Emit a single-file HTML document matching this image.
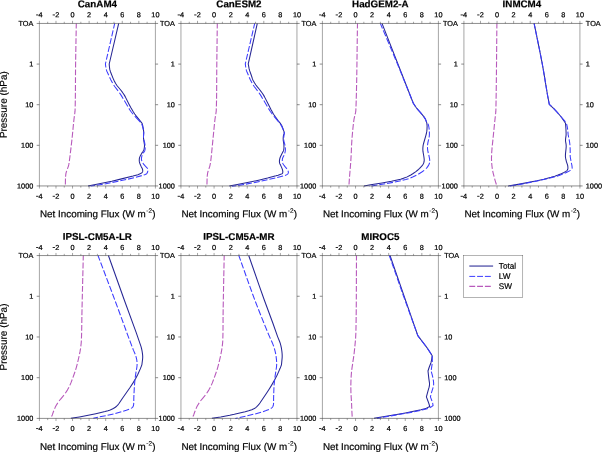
<!DOCTYPE html><html><head><meta charset="utf-8"><title>Net Incoming Flux</title>
<style>html,body{margin:0;padding:0;background:#fff}svg{display:block;will-change:transform}text{text-rendering:geometricPrecision;stroke:#000;stroke-width:0.2px;font-family:"Liberation Sans",sans-serif;fill:#000}.t{font-size:7.3px;stroke-width:0.22px}.ti{font-size:9.8px;font-weight:bold}.lb{font-size:9.87px}.lg{font-size:8.2px}</style></head><body>
<svg width="602" height="452" viewBox="0 0 602 452">
<defs><filter id="b" x="0" y="0" width="602" height="452" filterUnits="userSpaceOnUse"><feGaussianBlur stdDeviation="0.01"/></filter></defs>
<rect width="602" height="452" fill="#fff"/>
<g filter="url(#b)"><rect width="602" height="452" fill="#fff"/>
<g fill="none" stroke-linejoin="round">
<path d="M118.70 23.40L109.20 64.00L109.38 66.23L109.65 68.55L109.90 69.90L110.37 71.46L113.08 78.36L114.30 81.03L115.67 83.55L116.94 85.48L120.70 90.00L122.35 92.19L123.61 93.98L124.50 95.38L125.33 96.87L129.14 104.40L130.77 107.47L133.43 112.03L134.72 114.03L136.10 115.93L141.53 122.56L142.10 123.50L142.33 124.03L142.62 125.16L143.43 129.67L143.66 131.34L143.71 132.99L143.51 136.26L143.50 137.90L143.67 139.57L144.48 144.90L144.50 145.90L144.41 147.06L144.14 148.79L143.80 149.90L143.57 150.43L142.99 151.44L141.69 153.39L140.32 155.85L139.85 156.85L139.50 157.90L139.38 158.46L139.24 160.18L139.40 161.90L139.84 163.44L141.12 166.38L142.13 168.23L142.50 169.20L142.71 170.29L142.73 170.85L142.67 171.39L142.50 171.90L142.23 172.34L141.86 172.73L141.44 173.06L140.50 173.60L139.49 174.07L137.93 174.65L133.02 176.06L120.54 179.12L111.77 181.15L88.00 185.90" stroke="#262694" stroke-width="1.05"/>
<path d="M114.70 23.40L113.53 28.50M113.10 30.40L111.75 36.30M111.31 38.20L109.96 44.10M109.52 46.00L108.17 51.90M107.74 53.80L106.38 59.70M105.95 61.60L105.40 64.00L105.89 67.50M106.27 69.40L106.58 70.46L106.99 71.55L108.73 75.30M109.58 77.20L110.77 79.74L112.55 83.10M113.70 85.00L114.71 86.46L118.06 90.90M119.45 92.80L121.22 95.39L123.19 98.70M124.32 100.60L127.82 106.50M128.90 108.40L129.74 109.75L130.75 111.23L133.11 114.30M134.77 116.20L140.35 122.10M141.68 124.00L142.12 125.01L142.47 126.09L143.08 128.35L143.43 129.90M143.69 131.80L143.72 133.04L143.49 136.19L143.49 137.70M143.81 139.60L144.64 142.62L145.12 145.50M145.20 147.40L145.05 149.50L144.70 150.90L144.32 151.63L143.03 153.30M142.18 155.20L141.66 156.90L141.40 158.60L141.47 159.73L141.86 161.10M142.82 163.00L143.60 164.07L144.69 165.43L147.00 167.77L147.35 168.25L147.66 168.84M147.87 170.74L147.67 171.75L147.38 172.56L146.97 173.30L146.61 173.72L146.16 174.08L145.38 174.50L143.68 175.07M141.78 175.62L135.88 177.18M133.98 177.66L128.08 179.13M126.18 179.58L120.28 180.84M118.38 181.23L112.48 182.39M110.58 182.76L104.68 183.90M102.78 184.24L96.88 185.19M94.98 185.47L90.60 186.10" stroke="#3c3cff" stroke-width="1.05"/>
<path d="M76.30 23.40L76.21 28.50M76.18 30.40L76.07 36.30M76.03 38.20L75.93 44.10M75.89 46.00L75.79 51.90M75.76 53.80L75.66 59.70M75.63 61.60L75.56 67.50M75.54 69.40L75.50 75.30M75.49 77.20L75.46 83.10M75.45 85.00L75.42 90.90M75.40 92.80L75.34 98.70M75.31 100.60L75.19 106.50M75.14 108.40L75.02 111.16L74.67 114.30M74.39 116.20L74.00 119.03L73.67 122.10M73.48 124.00L72.91 129.90M72.73 131.80L72.14 137.70M71.93 139.60L71.27 145.50M71.04 147.40L70.33 153.30M70.09 155.20L69.33 161.10M69.06 163.00L68.76 164.67L68.42 166.09L67.43 168.90M66.69 170.80L66.22 172.26L65.95 173.41L65.74 174.87L65.57 176.70M65.47 178.60L65.36 184.50" stroke="#b85abc" stroke-width="1.1"/>
</g>
<path d="M39.13 23.45H155.67M39.13 185.95H155.67M39.40 23.45h-2.7M155.40 23.45h2.7M39.40 64.08h-2.7M155.40 64.08h2.7M39.40 104.70h-2.7M155.40 104.70h2.7M39.40 145.32h-2.7M155.40 145.32h2.7M39.40 185.95h-2.7M155.40 185.95h2.7" fill="none" stroke="#4d4d4d" stroke-width="0.64"/>
<path d="M39.40 23.45V185.95M155.40 23.45V185.95M39.40 23.45v-2.60M39.40 185.95v2.60M47.69 23.45v-1.70M47.69 185.95v1.70M55.97 23.45v-2.60M55.97 185.95v2.60M64.26 23.45v-1.70M64.26 185.95v1.70M72.54 23.45v-2.60M72.54 185.95v2.60M80.83 23.45v-1.70M80.83 185.95v1.70M89.11 23.45v-2.60M89.11 185.95v2.60M97.40 23.45v-1.70M97.40 185.95v1.70M105.69 23.45v-2.60M105.69 185.95v2.60M113.97 23.45v-1.70M113.97 185.95v1.70M122.26 23.45v-2.60M122.26 185.95v2.60M130.54 23.45v-1.70M130.54 185.95v1.70M138.83 23.45v-2.60M138.83 185.95v2.60M147.11 23.45v-1.70M147.11 185.95v1.70M155.40 23.45v-2.60M155.40 185.95v2.60" fill="none" stroke="#4d4d4d" stroke-width="0.5"/>
<text class="t" x="38.59" y="17.35" transform="rotate(0.04 38.59 17.35)">4</text>
<path d="M36.10 14.95h2.3" stroke="#000" stroke-width="0.85" fill="none"/>
<text class="t" x="38.59" y="198.70" transform="rotate(0.04 38.59 198.70)">4</text>
<path d="M36.10 196.30h2.3" stroke="#000" stroke-width="0.85" fill="none"/>
<text class="t" x="55.16" y="17.35" transform="rotate(0.04 55.16 17.35)">2</text>
<path d="M52.67 14.95h2.3" stroke="#000" stroke-width="0.85" fill="none"/>
<text class="t" x="55.16" y="198.70" transform="rotate(0.04 55.16 198.70)">2</text>
<path d="M52.67 196.30h2.3" stroke="#000" stroke-width="0.85" fill="none"/>
<text class="t" x="72.54" y="17.35" text-anchor="middle" transform="rotate(0.04 72.54 17.35)">0</text>
<text class="t" x="72.54" y="198.70" text-anchor="middle" transform="rotate(0.04 72.54 198.70)">0</text>
<text class="t" x="89.11" y="17.35" text-anchor="middle" transform="rotate(0.04 89.11 17.35)">2</text>
<text class="t" x="89.11" y="198.70" text-anchor="middle" transform="rotate(0.04 89.11 198.70)">2</text>
<text class="t" x="105.69" y="17.35" text-anchor="middle" transform="rotate(0.04 105.69 17.35)">4</text>
<text class="t" x="105.69" y="198.70" text-anchor="middle" transform="rotate(0.04 105.69 198.70)">4</text>
<text class="t" x="122.26" y="17.35" text-anchor="middle" transform="rotate(0.04 122.26 17.35)">6</text>
<text class="t" x="122.26" y="198.70" text-anchor="middle" transform="rotate(0.04 122.26 198.70)">6</text>
<text class="t" x="138.83" y="17.35" text-anchor="middle" transform="rotate(0.04 138.83 17.35)">8</text>
<text class="t" x="138.83" y="198.70" text-anchor="middle" transform="rotate(0.04 138.83 198.70)">8</text>
<text class="t" x="155.40" y="17.35" text-anchor="middle" transform="rotate(0.04 155.40 17.35)">10</text>
<text class="t" x="155.40" y="198.70" text-anchor="middle" transform="rotate(0.04 155.40 198.70)">10</text>
<text class="t" x="33.30" y="25.90" text-anchor="end" transform="rotate(0.04 33.30 25.90)">TOA</text>
<text class="t" x="33.30" y="66.53" text-anchor="end" transform="rotate(0.04 33.30 66.53)">1</text>
<text class="t" x="33.30" y="107.15" text-anchor="end" transform="rotate(0.04 33.30 107.15)">10</text>
<text class="t" x="33.30" y="147.77" text-anchor="end" transform="rotate(0.04 33.30 147.77)">100</text>
<text class="t" x="33.30" y="188.40" text-anchor="end" transform="rotate(0.04 33.30 188.40)">1000</text>
<text class="ti" x="97.40" y="7.20" text-anchor="middle" transform="rotate(0.04 97.40 7.20)">CanAM4</text>
<text class="lb" x="39.95" y="217.25" transform="rotate(0.04 39.95 217.25)">Net Incoming Flux (W m<tspan font-size="6.5px" stroke-width="0.15" dy="-4.6" dx="0.55">-2</tspan><tspan dy="4.6" dx="0.15">)</tspan></text>
<text class="lb" style="font-size:9.95px" transform="translate(6.85 104.70) rotate(-89.96)" text-anchor="middle">Pressure (hPa)</text>
<g fill="none" stroke-linejoin="round">
<path d="M257.30 23.40L248.25 63.90L248.46 65.21L249.11 68.66L249.71 70.94L251.20 75.00L252.45 78.92L252.90 80.00L253.42 81.04L254.60 83.06L255.90 85.00L256.95 86.39L259.54 89.54L260.89 91.31L262.50 93.53L263.70 95.38L264.53 96.87L268.19 103.90L270.94 109.50L273.18 113.53L274.10 115.00L275.37 116.84L278.04 120.45L280.14 123.13L281.40 125.00L281.94 126.04L282.40 127.13L283.93 131.38L284.16 132.39L284.20 132.90L284.15 133.41L283.51 135.39L283.40 135.90L283.22 137.61L283.17 138.76L283.25 140.46L283.79 143.78L283.90 144.90L283.97 147.69L283.81 149.36L283.55 150.43L283.35 150.94L282.04 153.40L280.58 156.47L280.15 157.52L279.67 159.16L279.43 160.88L279.44 162.03L279.63 163.18L279.84 163.74L280.65 165.35L281.79 167.87L282.37 169.38L282.62 170.45L282.79 171.60L282.80 172.16L282.71 172.70L282.50 173.20L282.19 173.58L281.79 173.88L281.32 174.10L278.17 175.16L275.97 175.83L267.58 178.07L259.67 179.95L250.02 182.02L237.30 184.60L229.30 186.10" stroke="#262694" stroke-width="1.05"/>
<path d="M254.70 23.40L253.52 28.50M253.08 30.40L251.71 36.30M251.26 38.20L249.90 44.10M249.45 46.00L248.09 51.90M247.64 53.80L246.27 59.70M245.83 61.60L245.30 63.90L245.77 67.50M246.13 69.40L246.41 70.45L246.80 71.54L248.42 75.30M249.20 77.20L250.33 79.74L252.06 83.10M253.20 85.00L254.21 86.46L257.56 90.90M258.95 92.80L260.72 95.39L262.69 98.70M263.82 100.60L267.33 106.50M268.42 108.40L270.20 111.22L272.37 114.30M273.87 116.20L276.54 119.31L278.79 122.10M280.23 124.00L281.05 125.25L281.78 126.50L283.40 129.90M284.18 131.80L284.37 132.62L284.40 133.45L283.94 135.63L283.71 137.70M283.67 139.60L283.89 141.02L284.72 144.06L285.00 145.50M285.29 147.40L285.41 149.01L285.38 150.19L285.18 151.61L284.75 153.30M284.07 155.20L283.00 157.26L282.57 158.32L282.31 159.74L282.27 161.10M282.63 163.00L282.96 163.69L283.61 164.69L284.83 166.35L286.29 168.06L286.91 168.90M287.98 170.80L288.28 171.63L288.40 172.50L288.29 173.08L287.99 173.62L287.58 174.10L286.85 174.66L286.07 175.07L284.98 175.46M283.08 176.01L277.18 177.48M275.28 177.92L269.38 179.28M267.48 179.71L261.58 181.01M259.68 181.43L253.78 182.69M251.88 183.07L245.98 184.12M244.08 184.43L238.18 185.37M236.28 185.66L232.00 186.30" stroke="#3c3cff" stroke-width="1.05"/>
<path d="M217.30 23.40L217.24 28.50M217.21 30.40L217.14 36.30M217.12 38.20L217.04 44.10M217.02 46.00L216.94 51.90M216.92 53.80L216.85 59.70M216.83 61.60L216.77 67.50M216.75 69.40L216.72 75.30M216.71 77.20L216.69 83.10M216.69 85.00L216.65 90.90M216.64 92.80L216.57 98.70M216.53 100.60L216.40 106.50M216.34 108.40L216.21 111.17L215.79 114.30M215.46 116.20L215.01 119.02L214.66 122.10M214.46 124.00L213.87 129.90M213.69 131.80L213.12 137.70M212.93 139.60L212.36 145.50M212.17 147.40L211.60 153.30M211.40 155.20L210.74 161.10M210.46 163.00L209.83 166.09L208.91 168.90M208.23 170.80L207.80 172.26L207.55 173.41L207.18 176.70M207.09 178.60L206.96 184.50" stroke="#b85abc" stroke-width="1.1"/>
</g>
<path d="M180.68 23.45H297.22M180.68 185.95H297.22M180.95 23.45h-2.7M296.95 23.45h2.7M180.95 64.08h-2.7M296.95 64.08h2.7M180.95 104.70h-2.7M296.95 104.70h2.7M180.95 145.32h-2.7M296.95 145.32h2.7M180.95 185.95h-2.7M296.95 185.95h2.7" fill="none" stroke="#4d4d4d" stroke-width="0.64"/>
<path d="M180.95 23.45V185.95M296.95 23.45V185.95M180.95 23.45v-2.60M180.95 185.95v2.60M189.24 23.45v-1.70M189.24 185.95v1.70M197.52 23.45v-2.60M197.52 185.95v2.60M205.81 23.45v-1.70M205.81 185.95v1.70M214.09 23.45v-2.60M214.09 185.95v2.60M222.38 23.45v-1.70M222.38 185.95v1.70M230.66 23.45v-2.60M230.66 185.95v2.60M238.95 23.45v-1.70M238.95 185.95v1.70M247.24 23.45v-2.60M247.24 185.95v2.60M255.52 23.45v-1.70M255.52 185.95v1.70M263.81 23.45v-2.60M263.81 185.95v2.60M272.09 23.45v-1.70M272.09 185.95v1.70M280.38 23.45v-2.60M280.38 185.95v2.60M288.66 23.45v-1.70M288.66 185.95v1.70M296.95 23.45v-2.60M296.95 185.95v2.60" fill="none" stroke="#4d4d4d" stroke-width="0.5"/>
<text class="t" x="180.14" y="17.35" transform="rotate(0.04 180.14 17.35)">4</text>
<path d="M177.65 14.95h2.3" stroke="#000" stroke-width="0.85" fill="none"/>
<text class="t" x="180.14" y="198.70" transform="rotate(0.04 180.14 198.70)">4</text>
<path d="M177.65 196.30h2.3" stroke="#000" stroke-width="0.85" fill="none"/>
<text class="t" x="196.71" y="17.35" transform="rotate(0.04 196.71 17.35)">2</text>
<path d="M194.22 14.95h2.3" stroke="#000" stroke-width="0.85" fill="none"/>
<text class="t" x="196.71" y="198.70" transform="rotate(0.04 196.71 198.70)">2</text>
<path d="M194.22 196.30h2.3" stroke="#000" stroke-width="0.85" fill="none"/>
<text class="t" x="214.09" y="17.35" text-anchor="middle" transform="rotate(0.04 214.09 17.35)">0</text>
<text class="t" x="214.09" y="198.70" text-anchor="middle" transform="rotate(0.04 214.09 198.70)">0</text>
<text class="t" x="230.66" y="17.35" text-anchor="middle" transform="rotate(0.04 230.66 17.35)">2</text>
<text class="t" x="230.66" y="198.70" text-anchor="middle" transform="rotate(0.04 230.66 198.70)">2</text>
<text class="t" x="247.24" y="17.35" text-anchor="middle" transform="rotate(0.04 247.24 17.35)">4</text>
<text class="t" x="247.24" y="198.70" text-anchor="middle" transform="rotate(0.04 247.24 198.70)">4</text>
<text class="t" x="263.81" y="17.35" text-anchor="middle" transform="rotate(0.04 263.81 17.35)">6</text>
<text class="t" x="263.81" y="198.70" text-anchor="middle" transform="rotate(0.04 263.81 198.70)">6</text>
<text class="t" x="280.38" y="17.35" text-anchor="middle" transform="rotate(0.04 280.38 17.35)">8</text>
<text class="t" x="280.38" y="198.70" text-anchor="middle" transform="rotate(0.04 280.38 198.70)">8</text>
<text class="t" x="296.95" y="17.35" text-anchor="middle" transform="rotate(0.04 296.95 17.35)">10</text>
<text class="t" x="296.95" y="198.70" text-anchor="middle" transform="rotate(0.04 296.95 198.70)">10</text>
<text class="t" x="174.85" y="25.90" text-anchor="end" transform="rotate(0.04 174.85 25.90)">TOA</text>
<text class="t" x="174.85" y="66.53" text-anchor="end" transform="rotate(0.04 174.85 66.53)">1</text>
<text class="t" x="174.85" y="107.15" text-anchor="end" transform="rotate(0.04 174.85 107.15)">10</text>
<text class="t" x="174.85" y="147.77" text-anchor="end" transform="rotate(0.04 174.85 147.77)">100</text>
<text class="t" x="174.85" y="188.40" text-anchor="end" transform="rotate(0.04 174.85 188.40)">1000</text>
<text class="ti" x="238.95" y="7.20" text-anchor="middle" transform="rotate(0.04 238.95 7.20)">CanESM2</text>
<text class="lb" x="181.50" y="217.25" transform="rotate(0.04 181.50 217.25)">Net Incoming Flux (W m<tspan font-size="6.5px" stroke-width="0.15" dy="-4.6" dx="0.55">-2</tspan><tspan dy="4.6" dx="0.15">)</tspan></text>
<g fill="none" stroke-linejoin="round">
<path d="M382.00 23.40L413.30 103.20L415.29 106.29L416.50 108.00L417.61 109.35L420.73 112.85L423.20 115.88L424.51 117.67L425.10 118.60L425.70 119.83L426.80 122.90L427.05 125.33L427.10 126.60L426.98 129.55L426.70 131.90L426.38 133.50L425.97 135.09L423.43 143.99L423.10 145.60L422.91 147.36L422.84 149.13L422.95 151.44L423.72 155.76L424.05 158.02L424.22 159.75L424.20 160.90L424.12 161.48L423.84 162.61L423.38 163.69L422.79 164.69L422.12 165.62L421.00 166.95L419.40 168.59L418.16 169.74L415.55 171.87L412.75 173.79L410.80 174.95L408.76 176.05L407.17 176.86L405.56 177.59L403.35 178.37L400.56 179.15L397.17 179.95L391.44 181.17L382.03 182.90L370.60 184.80L364.00 186.10" stroke="#262694" stroke-width="1.05"/>
<path d="M380.30 23.40L382.46 28.50M383.27 30.40L385.77 36.30M386.57 38.20L389.07 44.10M389.87 46.00L392.37 51.90M393.18 53.80L395.68 59.70M396.48 61.60L398.91 67.50M399.68 69.40L402.05 75.30M402.82 77.20L405.20 83.10M405.96 85.00L408.34 90.90M409.11 92.80L411.49 98.70M412.25 100.60L413.30 103.20L415.43 106.50M416.82 108.40L420.35 112.41L421.92 114.30M423.45 116.20L424.48 117.63L425.25 118.87L425.84 120.18L426.54 122.10M427.88 123.74L428.24 124.41L428.58 125.49L428.95 127.48L429.23 129.64M429.38 131.54L429.40 134.55L429.16 137.44M428.65 139.34L427.85 142.94L427.53 145.24M427.47 147.14L427.53 148.55L427.72 150.32L427.90 151.48L428.27 153.04M428.79 154.94L429.55 158.64L429.80 160.84M429.65 162.74L429.18 164.12L428.36 165.67L427.18 167.37L426.06 168.64M424.16 170.33L421.47 172.27L418.26 174.25M416.36 175.28L413.19 176.81L410.46 177.97M408.56 178.66L405.82 179.47L402.66 180.28M400.76 180.72L394.86 181.99M392.96 182.36L387.06 183.42M385.16 183.74L379.26 184.67M377.36 184.97L371.46 185.94M369.56 186.26L369.30 186.30" stroke="#3c3cff" stroke-width="1.05"/>
<path d="M357.50 23.40L357.41 28.50M357.38 30.40L357.29 36.30M357.27 38.20L357.19 44.10M357.16 46.00L357.09 51.90M357.07 53.80L356.99 59.70M356.97 61.60L356.89 67.50M356.86 69.40L356.77 75.30M356.74 77.20L356.63 83.10M356.59 85.00L356.46 90.90M356.42 92.80L356.26 98.70M356.21 100.60L356.01 106.50M355.95 108.40L355.77 111.17L355.53 112.64L355.15 114.30M354.67 116.20L354.04 119.02L353.62 122.10M353.39 124.00L352.76 129.90M352.58 131.80L352.07 137.70M351.92 139.60L351.56 145.50M351.48 147.40L351.24 153.30M351.15 155.20L350.81 161.10M350.67 163.00L350.20 168.90M350.04 170.80L349.54 176.70M349.39 178.60L349.00 184.50" stroke="#b85abc" stroke-width="1.1"/>
</g>
<path d="M322.13 23.45H438.67M322.13 185.95H438.67M322.40 23.45h-2.7M438.40 23.45h2.7M322.40 64.08h-2.7M438.40 64.08h2.7M322.40 104.70h-2.7M438.40 104.70h2.7M322.40 145.32h-2.7M438.40 145.32h2.7M322.40 185.95h-2.7M438.40 185.95h2.7" fill="none" stroke="#4d4d4d" stroke-width="0.64"/>
<path d="M322.40 23.45V185.95M438.40 23.45V185.95M322.40 23.45v-2.60M322.40 185.95v2.60M330.69 23.45v-1.70M330.69 185.95v1.70M338.97 23.45v-2.60M338.97 185.95v2.60M347.26 23.45v-1.70M347.26 185.95v1.70M355.54 23.45v-2.60M355.54 185.95v2.60M363.83 23.45v-1.70M363.83 185.95v1.70M372.11 23.45v-2.60M372.11 185.95v2.60M380.40 23.45v-1.70M380.40 185.95v1.70M388.69 23.45v-2.60M388.69 185.95v2.60M396.97 23.45v-1.70M396.97 185.95v1.70M405.26 23.45v-2.60M405.26 185.95v2.60M413.54 23.45v-1.70M413.54 185.95v1.70M421.83 23.45v-2.60M421.83 185.95v2.60M430.11 23.45v-1.70M430.11 185.95v1.70M438.40 23.45v-2.60M438.40 185.95v2.60" fill="none" stroke="#4d4d4d" stroke-width="0.5"/>
<text class="t" x="321.59" y="17.35" transform="rotate(0.04 321.59 17.35)">4</text>
<path d="M319.10 14.95h2.3" stroke="#000" stroke-width="0.85" fill="none"/>
<text class="t" x="321.59" y="198.70" transform="rotate(0.04 321.59 198.70)">4</text>
<path d="M319.10 196.30h2.3" stroke="#000" stroke-width="0.85" fill="none"/>
<text class="t" x="338.16" y="17.35" transform="rotate(0.04 338.16 17.35)">2</text>
<path d="M335.67 14.95h2.3" stroke="#000" stroke-width="0.85" fill="none"/>
<text class="t" x="338.16" y="198.70" transform="rotate(0.04 338.16 198.70)">2</text>
<path d="M335.67 196.30h2.3" stroke="#000" stroke-width="0.85" fill="none"/>
<text class="t" x="355.54" y="17.35" text-anchor="middle" transform="rotate(0.04 355.54 17.35)">0</text>
<text class="t" x="355.54" y="198.70" text-anchor="middle" transform="rotate(0.04 355.54 198.70)">0</text>
<text class="t" x="372.11" y="17.35" text-anchor="middle" transform="rotate(0.04 372.11 17.35)">2</text>
<text class="t" x="372.11" y="198.70" text-anchor="middle" transform="rotate(0.04 372.11 198.70)">2</text>
<text class="t" x="388.69" y="17.35" text-anchor="middle" transform="rotate(0.04 388.69 17.35)">4</text>
<text class="t" x="388.69" y="198.70" text-anchor="middle" transform="rotate(0.04 388.69 198.70)">4</text>
<text class="t" x="405.26" y="17.35" text-anchor="middle" transform="rotate(0.04 405.26 17.35)">6</text>
<text class="t" x="405.26" y="198.70" text-anchor="middle" transform="rotate(0.04 405.26 198.70)">6</text>
<text class="t" x="421.83" y="17.35" text-anchor="middle" transform="rotate(0.04 421.83 17.35)">8</text>
<text class="t" x="421.83" y="198.70" text-anchor="middle" transform="rotate(0.04 421.83 198.70)">8</text>
<text class="t" x="438.40" y="17.35" text-anchor="middle" transform="rotate(0.04 438.40 17.35)">10</text>
<text class="t" x="438.40" y="198.70" text-anchor="middle" transform="rotate(0.04 438.40 198.70)">10</text>
<text class="t" x="316.30" y="25.90" text-anchor="end" transform="rotate(0.04 316.30 25.90)">TOA</text>
<text class="t" x="316.30" y="66.53" text-anchor="end" transform="rotate(0.04 316.30 66.53)">1</text>
<text class="t" x="316.30" y="107.15" text-anchor="end" transform="rotate(0.04 316.30 107.15)">10</text>
<text class="t" x="316.30" y="147.77" text-anchor="end" transform="rotate(0.04 316.30 147.77)">100</text>
<text class="t" x="316.30" y="188.40" text-anchor="end" transform="rotate(0.04 316.30 188.40)">1000</text>
<text class="ti" x="380.40" y="7.20" text-anchor="middle" transform="rotate(0.04 380.40 7.20)">HadGEM2-A</text>
<text class="lb" x="322.95" y="217.25" transform="rotate(0.04 322.95 217.25)">Net Incoming Flux (W m<tspan font-size="6.5px" stroke-width="0.15" dy="-4.6" dx="0.55">-2</tspan><tspan dy="4.6" dx="0.15">)</tspan></text>
<g fill="none" stroke-linejoin="round">
<path d="M534.10 23.40L539.48 49.52L541.99 62.32L543.65 71.64L547.50 95.00L549.30 104.30L553.50 108.30L556.35 111.33L558.73 113.99L560.20 115.76L561.88 117.96L563.83 120.67L565.50 123.20L565.90 128.20L566.12 133.78L566.07 135.44L565.61 138.68L565.50 140.30L565.59 141.48L566.09 144.42L566.20 146.19L566.10 147.96L565.46 154.14L565.40 156.30L565.52 157.49L565.72 158.67L566.40 161.60L567.43 164.65L567.71 165.68L567.91 167.25L567.91 168.32L567.84 168.83L567.50 169.80L567.20 170.25L566.83 170.66L566.41 171.02L565.47 171.64L563.45 172.77L561.28 173.78L557.97 175.10L554.79 176.20L551.04 177.35L543.82 179.28L537.02 180.81L518.16 184.39L508.00 186.10" stroke="#262694" stroke-width="1.05"/>
<path d="M534.10 23.40L535.14 28.50M535.53 30.40L536.76 36.30M537.15 38.20L538.37 44.10M538.76 46.00L539.96 51.90M540.34 53.80L541.49 59.70M541.86 61.60L542.93 67.50M543.27 69.40L544.26 75.30M544.57 77.20L545.52 83.10M545.83 85.00L546.80 90.90M547.12 92.80L548.19 98.70M548.56 100.60L549.30 104.30L551.50 106.34M553.40 108.19L555.73 110.69L558.78 114.09M560.47 115.99L563.73 119.75L565.42 121.89M566.55 123.79L567.33 127.24L567.69 129.69M567.86 131.59L568.20 134.90L568.71 137.49M569.13 139.39L569.62 142.35L569.97 145.29M570.10 147.19L570.20 151.20L570.17 153.09M570.14 154.99L570.20 156.30L570.34 157.49L570.97 160.89M571.35 162.79L571.78 164.75L571.97 165.91L572.15 167.67L572.14 168.25L572.06 168.69M570.58 170.40L566.82 172.30L564.68 173.30M562.78 174.09L559.77 175.21L556.88 176.18M554.98 176.76L549.08 178.30M547.18 178.75L541.28 180.08M539.38 180.50L533.48 181.73M531.58 182.12L525.68 183.30M523.78 183.67L517.88 184.76M515.98 185.09L510.08 186.09" stroke="#3c3cff" stroke-width="1.05"/>
<path d="M496.90 23.40L496.84 28.50M496.82 30.40L496.77 36.30M496.75 38.20L496.69 44.10M496.68 46.00L496.63 51.90M496.61 53.80L496.56 59.70M496.54 61.60L496.49 67.50M496.47 69.40L496.41 75.30M496.39 77.20L496.32 83.10M496.30 85.00L496.22 90.90M496.20 92.80L496.10 98.70M496.07 100.60L495.96 106.50M495.93 108.40L495.84 111.16L495.56 114.30M495.33 116.20L494.68 122.10M494.49 124.00L493.90 129.90M493.71 131.80L493.12 137.70M492.93 139.60L492.29 145.50M492.10 147.40L491.66 153.30M491.56 155.20L491.48 158.33L491.55 161.10M491.67 163.00L491.95 165.99L492.35 168.90M492.68 170.80L493.23 173.32L494.09 176.70M494.60 178.60L495.30 181.10L496.39 184.50" stroke="#b85abc" stroke-width="1.1"/>
</g>
<path d="M463.65 23.45H580.19M463.65 185.95H580.19M463.92 23.45h-2.7M579.92 23.45h2.7M463.92 64.08h-2.7M579.92 64.08h2.7M463.92 104.70h-2.7M579.92 104.70h2.7M463.92 145.32h-2.7M579.92 145.32h2.7M463.92 185.95h-2.7M579.92 185.95h2.7" fill="none" stroke="#4d4d4d" stroke-width="0.64"/>
<path d="M463.92 23.45V185.95M579.92 23.45V185.95M463.92 23.45v-2.60M463.92 185.95v2.60M472.21 23.45v-1.70M472.21 185.95v1.70M480.49 23.45v-2.60M480.49 185.95v2.60M488.78 23.45v-1.70M488.78 185.95v1.70M497.06 23.45v-2.60M497.06 185.95v2.60M505.35 23.45v-1.70M505.35 185.95v1.70M513.63 23.45v-2.60M513.63 185.95v2.60M521.92 23.45v-1.70M521.92 185.95v1.70M530.21 23.45v-2.60M530.21 185.95v2.60M538.49 23.45v-1.70M538.49 185.95v1.70M546.78 23.45v-2.60M546.78 185.95v2.60M555.06 23.45v-1.70M555.06 185.95v1.70M563.35 23.45v-2.60M563.35 185.95v2.60M571.63 23.45v-1.70M571.63 185.95v1.70M579.92 23.45v-2.60M579.92 185.95v2.60" fill="none" stroke="#4d4d4d" stroke-width="0.5"/>
<text class="t" x="463.11" y="17.35" transform="rotate(0.04 463.11 17.35)">4</text>
<path d="M460.62 14.95h2.3" stroke="#000" stroke-width="0.85" fill="none"/>
<text class="t" x="463.11" y="198.70" transform="rotate(0.04 463.11 198.70)">4</text>
<path d="M460.62 196.30h2.3" stroke="#000" stroke-width="0.85" fill="none"/>
<text class="t" x="479.68" y="17.35" transform="rotate(0.04 479.68 17.35)">2</text>
<path d="M477.19 14.95h2.3" stroke="#000" stroke-width="0.85" fill="none"/>
<text class="t" x="479.68" y="198.70" transform="rotate(0.04 479.68 198.70)">2</text>
<path d="M477.19 196.30h2.3" stroke="#000" stroke-width="0.85" fill="none"/>
<text class="t" x="497.06" y="17.35" text-anchor="middle" transform="rotate(0.04 497.06 17.35)">0</text>
<text class="t" x="497.06" y="198.70" text-anchor="middle" transform="rotate(0.04 497.06 198.70)">0</text>
<text class="t" x="513.63" y="17.35" text-anchor="middle" transform="rotate(0.04 513.63 17.35)">2</text>
<text class="t" x="513.63" y="198.70" text-anchor="middle" transform="rotate(0.04 513.63 198.70)">2</text>
<text class="t" x="530.21" y="17.35" text-anchor="middle" transform="rotate(0.04 530.21 17.35)">4</text>
<text class="t" x="530.21" y="198.70" text-anchor="middle" transform="rotate(0.04 530.21 198.70)">4</text>
<text class="t" x="546.78" y="17.35" text-anchor="middle" transform="rotate(0.04 546.78 17.35)">6</text>
<text class="t" x="546.78" y="198.70" text-anchor="middle" transform="rotate(0.04 546.78 198.70)">6</text>
<text class="t" x="563.35" y="17.35" text-anchor="middle" transform="rotate(0.04 563.35 17.35)">8</text>
<text class="t" x="563.35" y="198.70" text-anchor="middle" transform="rotate(0.04 563.35 198.70)">8</text>
<text class="t" x="579.92" y="17.35" text-anchor="middle" transform="rotate(0.04 579.92 17.35)">10</text>
<text class="t" x="579.92" y="198.70" text-anchor="middle" transform="rotate(0.04 579.92 198.70)">10</text>
<text class="t" x="457.82" y="25.90" text-anchor="end" transform="rotate(0.04 457.82 25.90)">TOA</text>
<text class="t" x="585.82" y="25.90" transform="rotate(0.04 585.82 25.90)">TOA</text>
<text class="t" x="457.82" y="66.53" text-anchor="end" transform="rotate(0.04 457.82 66.53)">1</text>
<text class="t" x="585.82" y="66.53" transform="rotate(0.04 585.82 66.53)">1</text>
<text class="t" x="457.82" y="107.15" text-anchor="end" transform="rotate(0.04 457.82 107.15)">10</text>
<text class="t" x="585.82" y="107.15" transform="rotate(0.04 585.82 107.15)">10</text>
<text class="t" x="457.82" y="147.77" text-anchor="end" transform="rotate(0.04 457.82 147.77)">100</text>
<text class="t" x="585.82" y="147.77" transform="rotate(0.04 585.82 147.77)">100</text>
<text class="t" x="457.82" y="188.40" text-anchor="end" transform="rotate(0.04 457.82 188.40)">1000</text>
<text class="t" x="585.82" y="188.40" transform="rotate(0.04 585.82 188.40)">1000</text>
<text class="ti" x="521.92" y="7.20" text-anchor="middle" transform="rotate(0.04 521.92 7.20)">INMCM4</text>
<text class="lb" x="464.47" y="217.25" transform="rotate(0.04 464.47 217.25)">Net Incoming Flux (W m<tspan font-size="6.5px" stroke-width="0.15" dy="-4.6" dx="0.55">-2</tspan><tspan dy="4.6" dx="0.15">)</tspan></text>
<g fill="none" stroke-linejoin="round">
<path d="M108.40 255.50L124.10 299.45L136.13 332.39L141.04 346.68L141.50 348.30L141.99 350.52L142.50 353.90L142.69 355.95L142.70 357.50L142.58 359.21L141.92 364.56L141.39 366.12L140.29 368.88L137.89 374.21L135.80 378.30L133.39 382.39L130.19 387.31L122.50 398.20L118.98 403.53L117.90 404.90L117.11 405.74L116.26 406.53L115.35 407.25L113.38 408.49L111.25 409.54L109.59 410.21L107.90 410.80L105.07 411.61L95.84 413.71L88.25 415.27L79.43 416.90L70.90 418.30" stroke="#262694" stroke-width="1.05"/>
<path d="M98.00 255.50L99.93 260.60M100.65 262.50L102.88 268.40M103.60 270.30L105.84 276.20M106.56 278.10L108.79 284.00M109.51 285.90L111.73 291.80M112.45 293.70L114.66 299.60M115.37 301.50L117.56 307.40M118.26 309.30L120.44 315.20M121.14 317.10L123.30 323.00M124.00 324.90L126.13 330.80M126.82 332.70L129.04 338.60M129.77 340.50L131.97 346.40M132.68 348.30L133.41 350.16L134.68 353.01L135.15 354.20M135.82 356.10L136.21 357.38L136.56 358.79L136.82 360.25L137.02 362.00M137.12 363.90L137.07 365.25L136.90 367.00L136.43 369.80M136.08 371.70L135.19 377.60M134.96 379.50L134.46 385.40M134.34 387.30L134.02 393.20M133.93 395.10L133.79 398.49L133.79 401.00M133.77 402.90L133.55 405.19L133.19 406.34L132.89 406.86L132.50 407.30L131.83 407.83L131.00 408.36M129.10 409.26L126.31 410.29L123.20 411.26M121.30 411.80L115.40 413.44M113.50 413.93L107.60 415.30M105.70 415.69L99.80 416.85M97.90 417.25L93.30 418.30" stroke="#3c3cff" stroke-width="1.05"/>
<path d="M83.30 255.50L83.18 260.60M83.13 262.50L82.99 268.40M82.94 270.30L82.80 276.20M82.75 278.10L82.61 284.00M82.56 285.90L82.42 291.80M82.38 293.70L82.24 299.60M82.19 301.50L82.06 307.40M82.02 309.30L81.90 315.20M81.87 317.10L81.80 323.00M81.77 324.90L81.67 330.80M81.63 332.70L81.45 338.60M81.38 340.50L81.18 343.24L80.83 346.40M80.57 348.30L80.10 351.17L79.52 354.20M79.11 356.10L77.75 362.00M77.28 363.90L76.43 367.07L75.61 369.80M74.99 371.70L72.90 377.60M72.20 379.50L70.91 382.91L69.86 385.40M68.95 387.30L67.37 390.09L65.31 393.20M63.96 395.10L60.43 399.27L59.11 401.00M57.78 402.90L56.00 405.80L55.33 407.12L54.59 408.80M53.82 410.70L53.30 412.02L52.30 414.94L51.55 416.60" stroke="#b85abc" stroke-width="1.1"/>
</g>
<path d="M39.13 255.55H155.67M39.13 418.40H155.67M39.40 255.55h-2.7M155.40 255.55h2.7M39.40 296.26h-2.7M155.40 296.26h2.7M39.40 336.98h-2.7M155.40 336.98h2.7M39.40 377.69h-2.7M155.40 377.69h2.7M39.40 418.40h-2.7M155.40 418.40h2.7" fill="none" stroke="#4d4d4d" stroke-width="0.64"/>
<path d="M39.40 255.55V418.40M155.40 255.55V418.40M39.40 255.55v-2.60M39.40 418.40v2.60M47.69 255.55v-1.70M47.69 418.40v1.70M55.97 255.55v-2.60M55.97 418.40v2.60M64.26 255.55v-1.70M64.26 418.40v1.70M72.54 255.55v-2.60M72.54 418.40v2.60M80.83 255.55v-1.70M80.83 418.40v1.70M89.11 255.55v-2.60M89.11 418.40v2.60M97.40 255.55v-1.70M97.40 418.40v1.70M105.69 255.55v-2.60M105.69 418.40v2.60M113.97 255.55v-1.70M113.97 418.40v1.70M122.26 255.55v-2.60M122.26 418.40v2.60M130.54 255.55v-1.70M130.54 418.40v1.70M138.83 255.55v-2.60M138.83 418.40v2.60M147.11 255.55v-1.70M147.11 418.40v1.70M155.40 255.55v-2.60M155.40 418.40v2.60" fill="none" stroke="#4d4d4d" stroke-width="0.5"/>
<text class="t" x="38.59" y="249.90" transform="rotate(0.04 38.59 249.90)">4</text>
<path d="M36.10 247.50h2.3" stroke="#000" stroke-width="0.85" fill="none"/>
<text class="t" x="38.59" y="430.95" transform="rotate(0.04 38.59 430.95)">4</text>
<path d="M36.10 428.55h2.3" stroke="#000" stroke-width="0.85" fill="none"/>
<text class="t" x="55.16" y="249.90" transform="rotate(0.04 55.16 249.90)">2</text>
<path d="M52.67 247.50h2.3" stroke="#000" stroke-width="0.85" fill="none"/>
<text class="t" x="55.16" y="430.95" transform="rotate(0.04 55.16 430.95)">2</text>
<path d="M52.67 428.55h2.3" stroke="#000" stroke-width="0.85" fill="none"/>
<text class="t" x="72.54" y="249.90" text-anchor="middle" transform="rotate(0.04 72.54 249.90)">0</text>
<text class="t" x="72.54" y="430.95" text-anchor="middle" transform="rotate(0.04 72.54 430.95)">0</text>
<text class="t" x="89.11" y="249.90" text-anchor="middle" transform="rotate(0.04 89.11 249.90)">2</text>
<text class="t" x="89.11" y="430.95" text-anchor="middle" transform="rotate(0.04 89.11 430.95)">2</text>
<text class="t" x="105.69" y="249.90" text-anchor="middle" transform="rotate(0.04 105.69 249.90)">4</text>
<text class="t" x="105.69" y="430.95" text-anchor="middle" transform="rotate(0.04 105.69 430.95)">4</text>
<text class="t" x="122.26" y="249.90" text-anchor="middle" transform="rotate(0.04 122.26 249.90)">6</text>
<text class="t" x="122.26" y="430.95" text-anchor="middle" transform="rotate(0.04 122.26 430.95)">6</text>
<text class="t" x="138.83" y="249.90" text-anchor="middle" transform="rotate(0.04 138.83 249.90)">8</text>
<text class="t" x="138.83" y="430.95" text-anchor="middle" transform="rotate(0.04 138.83 430.95)">8</text>
<text class="t" x="155.40" y="249.90" text-anchor="middle" transform="rotate(0.04 155.40 249.90)">10</text>
<text class="t" x="155.40" y="430.95" text-anchor="middle" transform="rotate(0.04 155.40 430.95)">10</text>
<text class="t" x="33.30" y="258.00" text-anchor="end" transform="rotate(0.04 33.30 258.00)">TOA</text>
<text class="t" x="33.30" y="298.71" text-anchor="end" transform="rotate(0.04 33.30 298.71)">1</text>
<text class="t" x="33.30" y="339.43" text-anchor="end" transform="rotate(0.04 33.30 339.43)">10</text>
<text class="t" x="33.30" y="380.14" text-anchor="end" transform="rotate(0.04 33.30 380.14)">100</text>
<text class="t" x="33.30" y="420.85" text-anchor="end" transform="rotate(0.04 33.30 420.85)">1000</text>
<text class="ti" x="97.40" y="239.90" text-anchor="middle" transform="rotate(0.04 97.40 239.90)">IPSL-CM5A-LR</text>
<text class="lb" x="39.95" y="449.95" transform="rotate(0.04 39.95 449.95)">Net Incoming Flux (W m<tspan font-size="6.5px" stroke-width="0.15" dy="-4.6" dx="0.55">-2</tspan><tspan dy="4.6" dx="0.15">)</tspan></text>
<text class="lb" style="font-size:9.95px" transform="translate(6.85 336.98) rotate(-89.96)" text-anchor="middle">Pressure (hPa)</text>
<g fill="none" stroke-linejoin="round">
<path d="M248.70 255.50L258.93 284.82L264.30 300.01L272.90 323.30L277.60 336.60L279.61 341.53L280.20 343.20L280.81 345.41L281.42 348.21L281.85 350.99L282.12 353.74L282.20 355.95L282.16 357.62L281.51 364.56L281.00 366.12L280.12 368.33L278.47 372.12L277.03 375.23L274.68 379.84L271.51 385.38L269.43 388.75L266.67 393.02L259.93 403.05L258.87 404.45L257.77 405.73L256.58 406.89L255.72 407.59L254.80 408.20L253.82 408.74L251.78 409.67L248.60 410.80L245.19 411.74L234.30 414.30L229.75 415.25L220.71 416.90L211.90 418.30" stroke="#262694" stroke-width="1.05"/>
<path d="M238.80 255.50L240.63 260.60M241.30 262.50L243.40 268.40M244.08 270.30L246.18 276.20M246.85 278.10L248.97 284.00M249.65 285.90L251.79 291.80M252.48 293.70L254.66 299.60M255.38 301.50L257.65 307.40M258.40 309.30L260.75 315.20M261.51 317.10L263.88 323.00M264.64 324.90L267.06 330.80M267.85 332.70L270.41 338.60M271.31 340.50L272.39 342.93L273.71 346.40M274.33 348.30L275.09 351.03L275.74 354.20M276.04 356.10L276.42 359.11L276.64 362.00M276.71 363.90L276.53 366.71L276.09 369.80M275.78 371.70L274.89 377.60M274.65 379.50L274.06 385.40M273.96 387.30L273.74 393.20M273.69 395.10L273.59 398.78L273.60 401.00M273.59 402.90L273.40 404.90L273.19 405.76L272.96 406.32L272.67 406.83L272.31 407.30L271.65 407.87L270.80 408.45M268.90 409.43L266.14 410.56L263.00 411.65M261.10 412.24L255.20 413.89M253.30 414.36L247.40 415.80M245.50 416.24L239.60 417.56M237.70 417.94L235.30 418.40" stroke="#3c3cff" stroke-width="1.05"/>
<path d="M224.20 255.50L224.10 260.60M224.06 262.50L223.95 268.40M223.91 270.30L223.79 276.20M223.75 278.10L223.63 284.00M223.59 285.90L223.48 291.80M223.44 293.70L223.33 299.60M223.30 301.50L223.19 307.40M223.16 309.30L223.09 315.20M223.08 317.10L223.05 323.00M223.04 324.90L223.00 330.80M222.97 332.70L222.84 338.60M222.78 340.50L222.59 343.24L222.23 346.40M221.97 348.30L221.50 351.17L220.92 354.20M220.51 356.10L219.15 362.00M218.68 363.90L217.83 367.07L217.01 369.80M216.39 371.70L214.30 377.60M213.60 379.50L212.31 382.91L211.26 385.40M210.35 387.30L208.77 390.09L206.71 393.20M205.36 395.10L201.83 399.27L200.51 401.00M199.18 402.90L197.40 405.80L196.73 407.12L195.99 408.80M195.22 410.70L194.70 412.02L193.70 414.94L192.95 416.60" stroke="#b85abc" stroke-width="1.1"/>
</g>
<path d="M180.68 255.55H297.22M180.68 418.40H297.22M180.95 255.55h-2.7M296.95 255.55h2.7M180.95 296.26h-2.7M296.95 296.26h2.7M180.95 336.98h-2.7M296.95 336.98h2.7M180.95 377.69h-2.7M296.95 377.69h2.7M180.95 418.40h-2.7M296.95 418.40h2.7" fill="none" stroke="#4d4d4d" stroke-width="0.64"/>
<path d="M180.95 255.55V418.40M296.95 255.55V418.40M180.95 255.55v-2.60M180.95 418.40v2.60M189.24 255.55v-1.70M189.24 418.40v1.70M197.52 255.55v-2.60M197.52 418.40v2.60M205.81 255.55v-1.70M205.81 418.40v1.70M214.09 255.55v-2.60M214.09 418.40v2.60M222.38 255.55v-1.70M222.38 418.40v1.70M230.66 255.55v-2.60M230.66 418.40v2.60M238.95 255.55v-1.70M238.95 418.40v1.70M247.24 255.55v-2.60M247.24 418.40v2.60M255.52 255.55v-1.70M255.52 418.40v1.70M263.81 255.55v-2.60M263.81 418.40v2.60M272.09 255.55v-1.70M272.09 418.40v1.70M280.38 255.55v-2.60M280.38 418.40v2.60M288.66 255.55v-1.70M288.66 418.40v1.70M296.95 255.55v-2.60M296.95 418.40v2.60" fill="none" stroke="#4d4d4d" stroke-width="0.5"/>
<text class="t" x="180.14" y="249.90" transform="rotate(0.04 180.14 249.90)">4</text>
<path d="M177.65 247.50h2.3" stroke="#000" stroke-width="0.85" fill="none"/>
<text class="t" x="180.14" y="430.95" transform="rotate(0.04 180.14 430.95)">4</text>
<path d="M177.65 428.55h2.3" stroke="#000" stroke-width="0.85" fill="none"/>
<text class="t" x="196.71" y="249.90" transform="rotate(0.04 196.71 249.90)">2</text>
<path d="M194.22 247.50h2.3" stroke="#000" stroke-width="0.85" fill="none"/>
<text class="t" x="196.71" y="430.95" transform="rotate(0.04 196.71 430.95)">2</text>
<path d="M194.22 428.55h2.3" stroke="#000" stroke-width="0.85" fill="none"/>
<text class="t" x="214.09" y="249.90" text-anchor="middle" transform="rotate(0.04 214.09 249.90)">0</text>
<text class="t" x="214.09" y="430.95" text-anchor="middle" transform="rotate(0.04 214.09 430.95)">0</text>
<text class="t" x="230.66" y="249.90" text-anchor="middle" transform="rotate(0.04 230.66 249.90)">2</text>
<text class="t" x="230.66" y="430.95" text-anchor="middle" transform="rotate(0.04 230.66 430.95)">2</text>
<text class="t" x="247.24" y="249.90" text-anchor="middle" transform="rotate(0.04 247.24 249.90)">4</text>
<text class="t" x="247.24" y="430.95" text-anchor="middle" transform="rotate(0.04 247.24 430.95)">4</text>
<text class="t" x="263.81" y="249.90" text-anchor="middle" transform="rotate(0.04 263.81 249.90)">6</text>
<text class="t" x="263.81" y="430.95" text-anchor="middle" transform="rotate(0.04 263.81 430.95)">6</text>
<text class="t" x="280.38" y="249.90" text-anchor="middle" transform="rotate(0.04 280.38 249.90)">8</text>
<text class="t" x="280.38" y="430.95" text-anchor="middle" transform="rotate(0.04 280.38 430.95)">8</text>
<text class="t" x="296.95" y="249.90" text-anchor="middle" transform="rotate(0.04 296.95 249.90)">10</text>
<text class="t" x="296.95" y="430.95" text-anchor="middle" transform="rotate(0.04 296.95 430.95)">10</text>
<text class="t" x="174.85" y="258.00" text-anchor="end" transform="rotate(0.04 174.85 258.00)">TOA</text>
<text class="t" x="174.85" y="298.71" text-anchor="end" transform="rotate(0.04 174.85 298.71)">1</text>
<text class="t" x="174.85" y="339.43" text-anchor="end" transform="rotate(0.04 174.85 339.43)">10</text>
<text class="t" x="174.85" y="380.14" text-anchor="end" transform="rotate(0.04 174.85 380.14)">100</text>
<text class="t" x="174.85" y="420.85" text-anchor="end" transform="rotate(0.04 174.85 420.85)">1000</text>
<text class="ti" x="238.95" y="239.90" text-anchor="middle" transform="rotate(0.04 238.95 239.90)">IPSL-CM5A-MR</text>
<text class="lb" x="181.50" y="449.95" transform="rotate(0.04 181.50 449.95)">Net Incoming Flux (W m<tspan font-size="6.5px" stroke-width="0.15" dy="-4.6" dx="0.55">-2</tspan><tspan dy="4.6" dx="0.15">)</tspan></text>
<g fill="none" stroke-linejoin="round">
<path d="M390.00 255.50L417.80 335.60L425.72 346.05L427.46 348.42L429.36 351.25L432.20 355.80L431.68 359.35L431.10 362.20L430.57 363.81L429.10 367.50L428.00 371.00L428.87 378.85L429.44 382.70L429.52 383.80L429.50 384.90L429.35 386.04L429.11 387.16L427.95 391.04L426.40 396.90L428.40 402.20L429.80 406.50L426.35 408.13L424.53 408.77L421.06 409.67L412.34 411.54L405.40 412.95L399.56 414.03L374.00 418.30" stroke="#262694" stroke-width="1.05"/>
<path d="M389.30 255.50L391.09 260.60M391.75 262.50L393.82 268.40M394.49 270.30L396.56 276.20M397.22 278.10L399.29 284.00M399.96 285.90L402.03 291.80M402.69 293.70L404.80 299.60M405.49 301.50L407.62 307.40M408.30 309.30L410.43 315.20M411.12 317.10L413.25 323.00M413.94 324.90L416.07 330.80M416.75 332.70L417.80 335.60L420.07 338.60M421.50 340.50L425.99 346.40M427.38 348.30L428.94 350.60L431.22 354.20M432.21 356.10L432.32 359.72L432.31 362.00M432.14 363.90L431.27 369.80M431.31 371.70L432.28 375.18L432.86 377.60M433.21 379.50L433.50 381.45L433.63 382.89L433.64 384.33L433.54 385.40M433.14 387.30L431.96 391.04L431.38 393.20M430.87 395.10L430.40 396.90L431.99 401.00M432.59 402.90L433.10 405.50L431.34 406.81L429.80 407.77M427.90 408.53L425.21 409.33L422.00 410.11M420.10 410.53L414.20 411.77M412.30 412.13L406.40 413.22M404.50 413.56L398.60 414.55M396.70 414.87L390.80 415.86M388.90 416.20L383.00 417.29M381.10 417.64L377.00 418.40" stroke="#3c3cff" stroke-width="1.05"/>
<path d="M356.50 255.50L356.46 260.60M356.45 262.50L356.43 268.40M356.42 270.30L356.40 276.20M356.39 278.10L356.38 284.00M356.37 285.90L356.35 291.80M356.34 293.70L356.32 299.60M356.30 301.50L356.26 307.40M356.25 309.30L356.18 315.20M356.16 317.10L356.08 323.00M356.04 324.90L355.93 330.80M355.88 332.70L355.57 338.60M355.42 340.50L354.86 346.40M354.67 348.30L354.03 354.20M353.77 356.10L352.89 362.00M352.61 363.90L351.74 369.80M351.52 371.70L351.07 377.60M350.98 379.50L350.83 385.40M350.83 387.30L350.95 393.20M351.06 395.10L351.46 401.00M351.55 402.90L351.78 408.80M351.85 410.70L352.19 416.60" stroke="#b85abc" stroke-width="1.1"/>
</g>
<path d="M322.13 255.55H438.67M322.13 418.40H438.67M322.40 255.55h-2.7M438.40 255.55h2.7M322.40 296.26h-2.7M438.40 296.26h2.7M322.40 336.98h-2.7M438.40 336.98h2.7M322.40 377.69h-2.7M438.40 377.69h2.7M322.40 418.40h-2.7M438.40 418.40h2.7" fill="none" stroke="#4d4d4d" stroke-width="0.64"/>
<path d="M322.40 255.55V418.40M438.40 255.55V418.40M322.40 255.55v-2.60M322.40 418.40v2.60M330.69 255.55v-1.70M330.69 418.40v1.70M338.97 255.55v-2.60M338.97 418.40v2.60M347.26 255.55v-1.70M347.26 418.40v1.70M355.54 255.55v-2.60M355.54 418.40v2.60M363.83 255.55v-1.70M363.83 418.40v1.70M372.11 255.55v-2.60M372.11 418.40v2.60M380.40 255.55v-1.70M380.40 418.40v1.70M388.69 255.55v-2.60M388.69 418.40v2.60M396.97 255.55v-1.70M396.97 418.40v1.70M405.26 255.55v-2.60M405.26 418.40v2.60M413.54 255.55v-1.70M413.54 418.40v1.70M421.83 255.55v-2.60M421.83 418.40v2.60M430.11 255.55v-1.70M430.11 418.40v1.70M438.40 255.55v-2.60M438.40 418.40v2.60" fill="none" stroke="#4d4d4d" stroke-width="0.5"/>
<text class="t" x="321.59" y="249.90" transform="rotate(0.04 321.59 249.90)">4</text>
<path d="M319.10 247.50h2.3" stroke="#000" stroke-width="0.85" fill="none"/>
<text class="t" x="321.59" y="430.95" transform="rotate(0.04 321.59 430.95)">4</text>
<path d="M319.10 428.55h2.3" stroke="#000" stroke-width="0.85" fill="none"/>
<text class="t" x="338.16" y="249.90" transform="rotate(0.04 338.16 249.90)">2</text>
<path d="M335.67 247.50h2.3" stroke="#000" stroke-width="0.85" fill="none"/>
<text class="t" x="338.16" y="430.95" transform="rotate(0.04 338.16 430.95)">2</text>
<path d="M335.67 428.55h2.3" stroke="#000" stroke-width="0.85" fill="none"/>
<text class="t" x="355.54" y="249.90" text-anchor="middle" transform="rotate(0.04 355.54 249.90)">0</text>
<text class="t" x="355.54" y="430.95" text-anchor="middle" transform="rotate(0.04 355.54 430.95)">0</text>
<text class="t" x="372.11" y="249.90" text-anchor="middle" transform="rotate(0.04 372.11 249.90)">2</text>
<text class="t" x="372.11" y="430.95" text-anchor="middle" transform="rotate(0.04 372.11 430.95)">2</text>
<text class="t" x="388.69" y="249.90" text-anchor="middle" transform="rotate(0.04 388.69 249.90)">4</text>
<text class="t" x="388.69" y="430.95" text-anchor="middle" transform="rotate(0.04 388.69 430.95)">4</text>
<text class="t" x="405.26" y="249.90" text-anchor="middle" transform="rotate(0.04 405.26 249.90)">6</text>
<text class="t" x="405.26" y="430.95" text-anchor="middle" transform="rotate(0.04 405.26 430.95)">6</text>
<text class="t" x="421.83" y="249.90" text-anchor="middle" transform="rotate(0.04 421.83 249.90)">8</text>
<text class="t" x="421.83" y="430.95" text-anchor="middle" transform="rotate(0.04 421.83 430.95)">8</text>
<text class="t" x="438.40" y="249.90" text-anchor="middle" transform="rotate(0.04 438.40 249.90)">10</text>
<text class="t" x="438.40" y="430.95" text-anchor="middle" transform="rotate(0.04 438.40 430.95)">10</text>
<text class="t" x="316.30" y="258.00" text-anchor="end" transform="rotate(0.04 316.30 258.00)">TOA</text>
<text class="t" x="444.30" y="258.00" transform="rotate(0.04 444.30 258.00)">TOA</text>
<text class="t" x="316.30" y="298.71" text-anchor="end" transform="rotate(0.04 316.30 298.71)">1</text>
<text class="t" x="444.30" y="298.71" transform="rotate(0.04 444.30 298.71)">1</text>
<text class="t" x="316.30" y="339.43" text-anchor="end" transform="rotate(0.04 316.30 339.43)">10</text>
<text class="t" x="444.30" y="339.43" transform="rotate(0.04 444.30 339.43)">10</text>
<text class="t" x="316.30" y="380.14" text-anchor="end" transform="rotate(0.04 316.30 380.14)">100</text>
<text class="t" x="444.30" y="380.14" transform="rotate(0.04 444.30 380.14)">100</text>
<text class="t" x="316.30" y="420.85" text-anchor="end" transform="rotate(0.04 316.30 420.85)">1000</text>
<text class="t" x="444.30" y="420.85" transform="rotate(0.04 444.30 420.85)">1000</text>
<text class="ti" x="380.40" y="239.90" text-anchor="middle" transform="rotate(0.04 380.40 239.90)">MIROC5</text>
<text class="lb" x="322.95" y="449.95" transform="rotate(0.04 322.95 449.95)">Net Incoming Flux (W m<tspan font-size="6.5px" stroke-width="0.15" dy="-4.6" dx="0.55">-2</tspan><tspan dy="4.6" dx="0.15">)</tspan></text>
<rect x="463.5" y="255.3" width="59.3" height="42.1" fill="#fff" stroke="#4d4d4d" stroke-width="0.42"/>
<path d="M469.3 266.05H493.1" stroke="#262694" stroke-width="1.05" fill="none"/>
<path d="M469.3 276.4H492.6" stroke="#3c3cff" stroke-width="1" stroke-dasharray="5.9 1.9" fill="none"/>
<path d="M469.3 286.4H492.6" stroke="#b85abc" stroke-width="1.1" stroke-dasharray="5.9 1.9" fill="none"/>
<text class="lg" x="498.8" y="268.7" transform="rotate(0.04 498.8 268.7)">Total</text><text class="lg" x="498.8" y="278.9" transform="rotate(0.04 498.8 278.9)">LW</text><text class="lg" x="498.8" y="289.05" transform="rotate(0.04 498.8 289.05)">SW</text>
</g></svg></body></html>
